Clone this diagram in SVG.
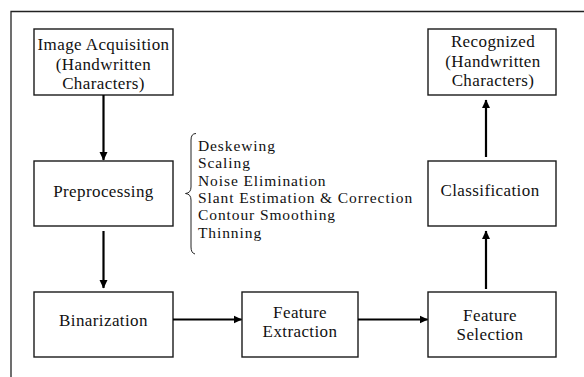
<svg xmlns="http://www.w3.org/2000/svg" width="584" height="377" viewBox="0 0 584 377">
<style>
.box{fill:#fff;stroke:#1a1a1a;stroke-width:1.4}
.t{font-family:"Liberation Serif","Times New Roman",serif;font-size:17px;letter-spacing:0.4px;fill:#111}
.s{font-family:"Liberation Serif","Times New Roman",serif;font-size:15.5px;letter-spacing:0.9px;fill:#111}
.c{text-anchor:middle}
.con{stroke:#000;stroke-width:2.2;fill:none}
.frame{stroke:#222;stroke-width:1.3;fill:none}
</style>
<defs>
<marker id="ah" markerWidth="9" markerHeight="9" refX="8" refY="4.5" orient="auto" markerUnits="userSpaceOnUse">
<path d="M0,0.5 L8.5,4.5 L0,8.5 Z" fill="#000"/>
</marker>
</defs>
<rect width="584" height="377" fill="#fff"/>
<path class="frame" d="M11,377 L11,11.5 L584,11.5"/>

<g id="image-acquisition">
<rect class="box" x="34" y="29" width="139" height="66"/>
<text class="t c" x="103.5" y="50">Image Acquisition</text>
<text class="t c" x="103.5" y="70">(Handwritten</text>
<text class="t c" x="103.5" y="89">Characters)</text>
</g>

<g id="recognized">
<rect class="box" x="428" y="29" width="128" height="66"/>
<text class="t c" x="493" y="47">Recognized</text>
<text class="t c" x="493" y="67">(Handwritten</text>
<text class="t c" x="493" y="86">Characters)</text>
</g>

<g id="preprocessing">
<rect class="box" x="34" y="161" width="139" height="65"/>
<text class="t c" x="103.5" y="197">Preprocessing</text>
</g>

<g id="preprocessing-steps">
<path d="M196,133.5 Q191,133.5 191,140 L191,187 Q191,193 185.5,193.5 Q191,194 191,200 L191,247 Q191,253 195,254" fill="none" stroke="#222" stroke-width="1"/>
<text class="s" x="198" y="151">Deskewing</text>
<text class="s" x="198" y="168">Scaling</text>
<text class="s" x="198" y="185.5">Noise Elimination</text>
<text class="s" x="198" y="203">Slant Estimation &amp; Correction</text>
<text class="s" x="198" y="220">Contour Smoothing</text>
<text class="s" x="198" y="237.5">Thinning</text>
</g>

<g id="classification">
<rect class="box" x="428" y="161" width="128" height="65"/>
<text class="t c" x="490" y="196">Classification</text>
</g>

<g id="binarization">
<rect class="box" x="34" y="292" width="139" height="65"/>
<text class="t c" x="103.5" y="326">Binarization</text>
</g>

<g id="feature-extraction">
<rect class="box" x="242" y="292" width="116" height="65"/>
<text class="t c" x="300" y="317.5">Feature</text>
<text class="t c" x="300" y="337">Extraction</text>
</g>

<g id="feature-selection">
<rect class="box" x="428" y="292" width="128" height="65"/>
<text class="t c" x="490" y="321">Feature</text>
<text class="t c" x="490" y="340">Selection</text>
</g>

<g id="connectors">
<line class="con" x1="103.5" y1="95" x2="103.5" y2="160" marker-end="url(#ah)"/>
<line class="con" x1="103.5" y1="231" x2="103.5" y2="288" marker-end="url(#ah)"/>
<line class="con" x1="173" y1="319.5" x2="241.5" y2="319.5" marker-end="url(#ah)"/>
<line class="con" x1="358" y1="319.5" x2="427.5" y2="319.5" marker-end="url(#ah)"/>
<line class="con" x1="486" y1="289" x2="486" y2="231" marker-end="url(#ah)"/>
<line class="con" x1="486" y1="157" x2="486" y2="100" marker-end="url(#ah)"/>
</g>
</svg>
